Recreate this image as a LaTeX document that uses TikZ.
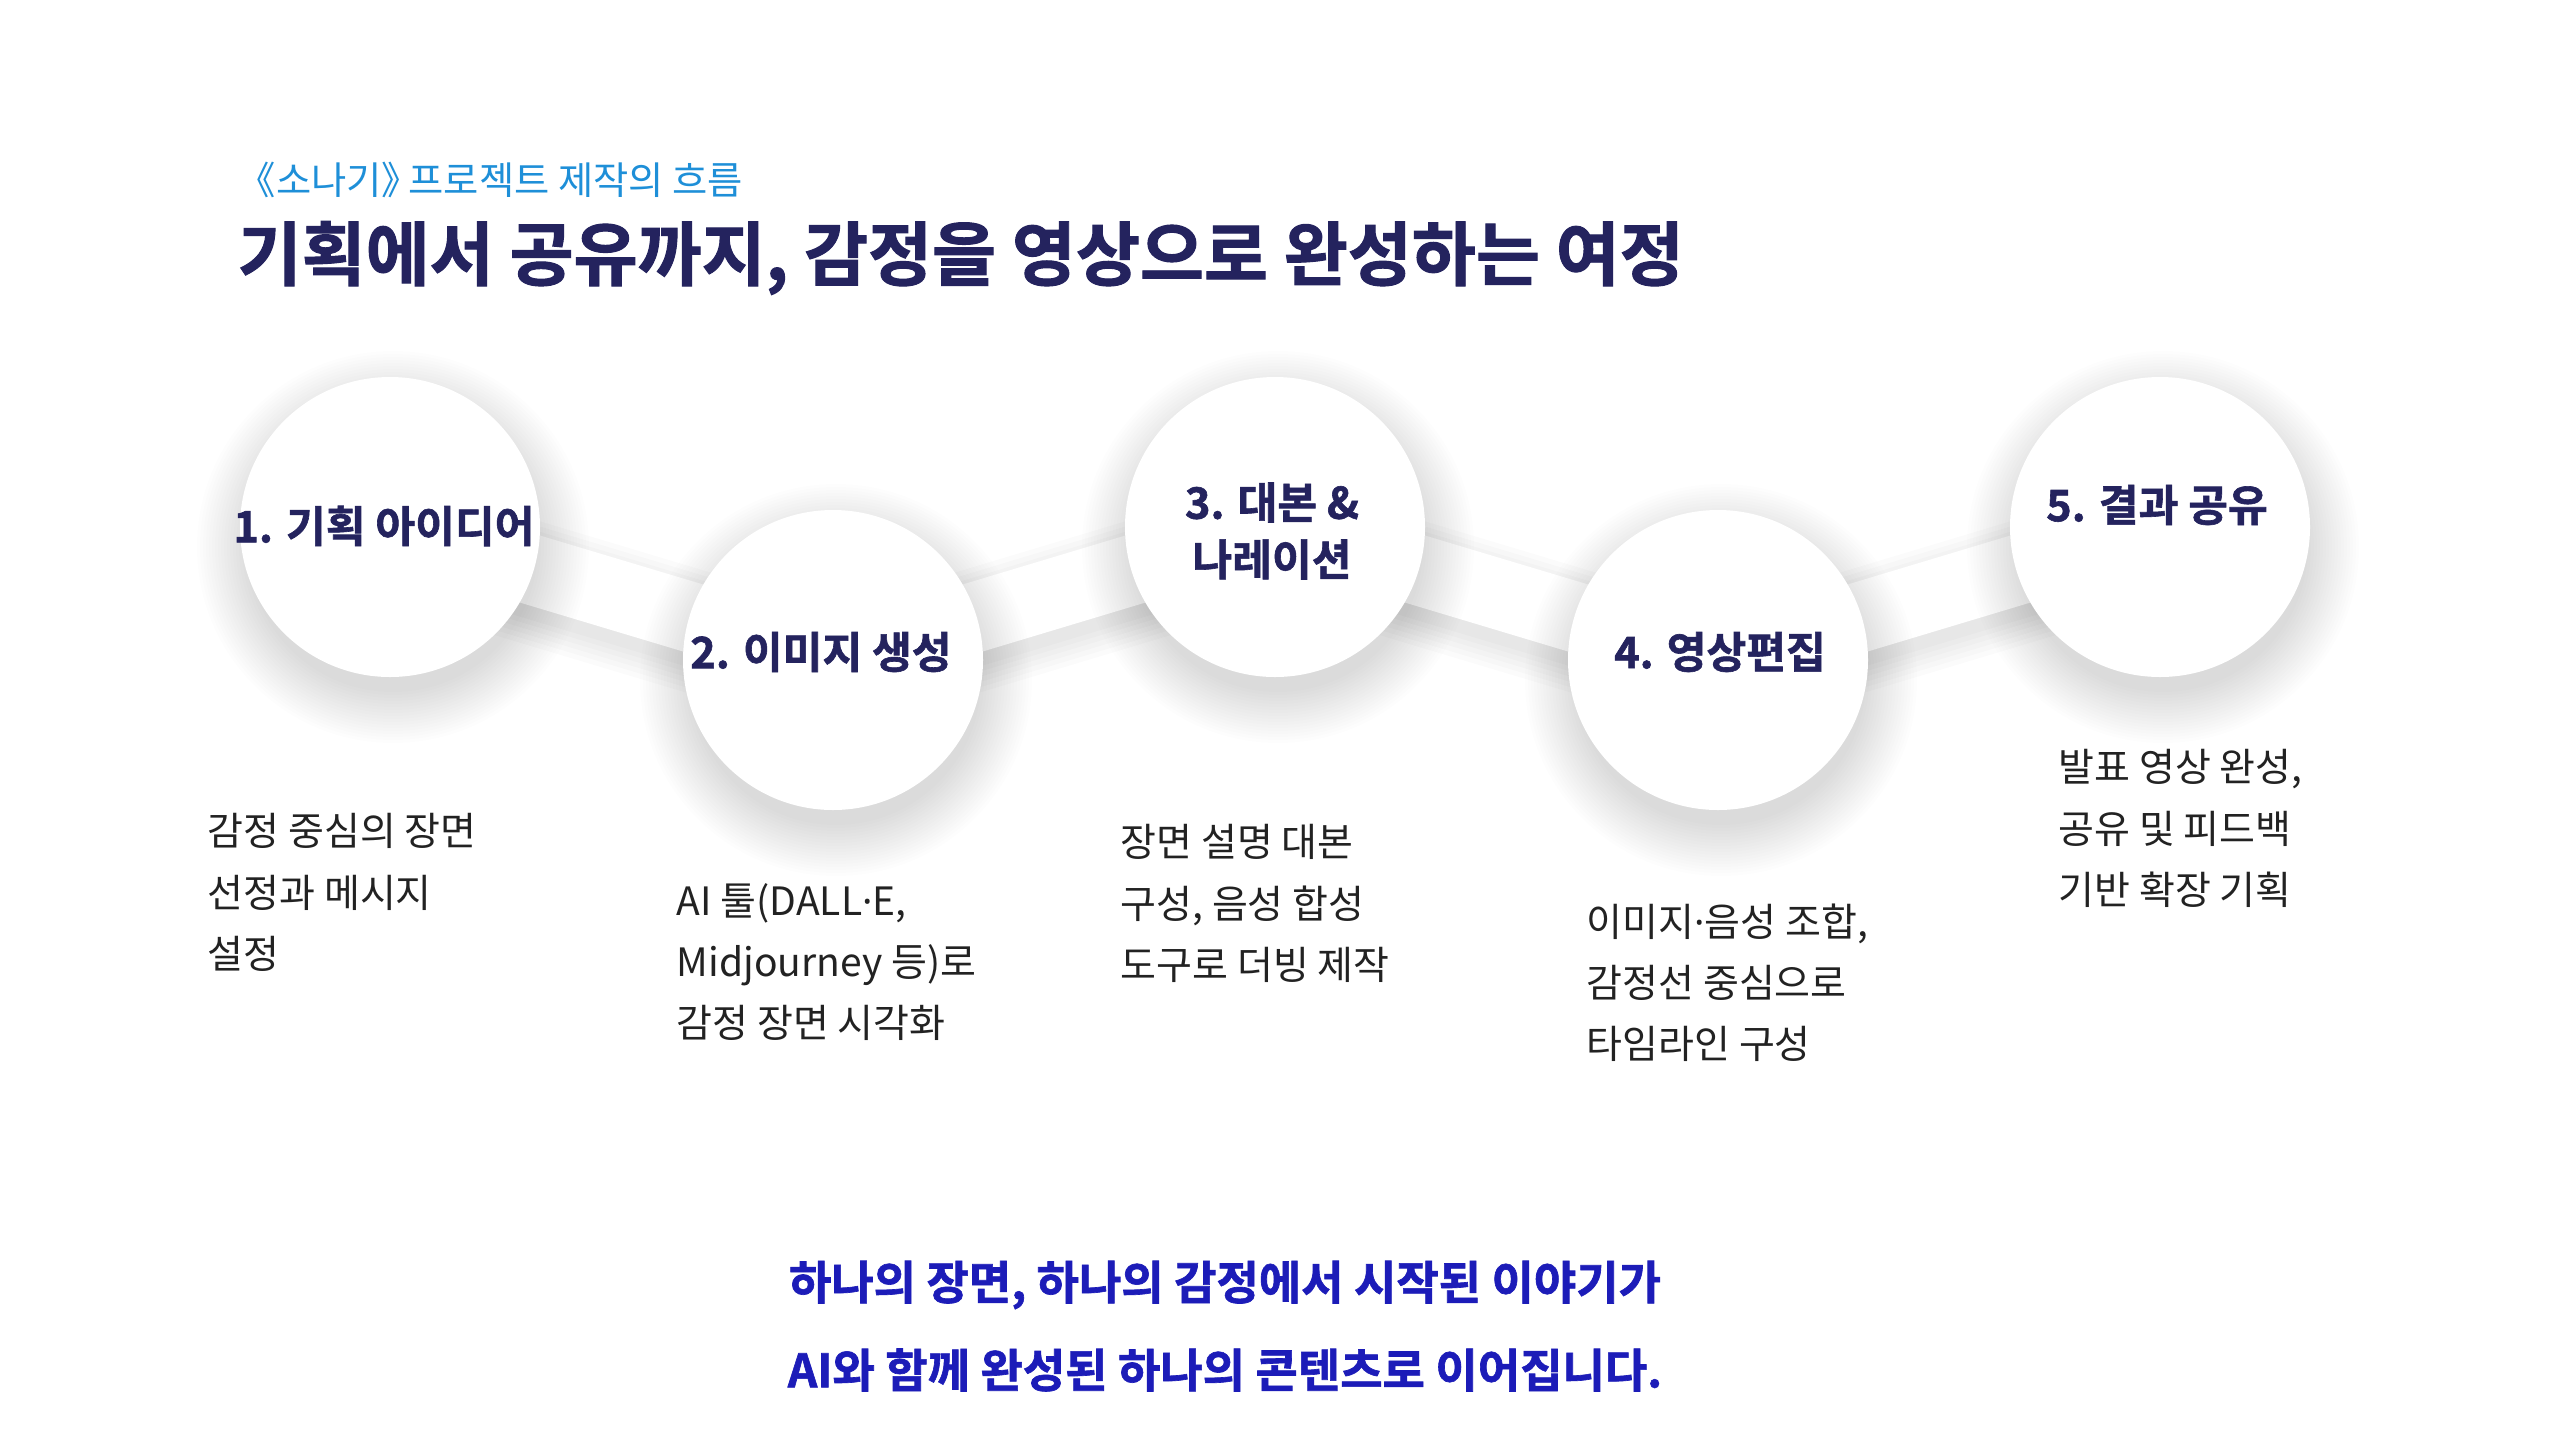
\documentclass[tikz,border=0pt]{standalone}
\usepackage{fontspec}
\setmainfont{Noto Sans CJK KR}[BoldFont={Noto Sans CJK KR Bold}, BoldFeatures={FakeBold=1.4}]
\newfontfamily\latinsans{Noto Sans}
\usepackage{tikz}
\usetikzlibrary{backgrounds}

\definecolor{navy}{HTML}{24235E}
\definecolor{skyblue}{HTML}{1E8FD8}
\definecolor{royal}{HTML}{1C1CB8}
\definecolor{bodytext}{HTML}{222222}

\begin{document}
\begin{tikzpicture}[
  bubble/.style={circle, fill=white, minimum size=3cm, inner sep=0pt},
  haloshade/.style={black, opacity=0.006},
  bandline/.style={white, line width=0.7cm},
  bandshade/.style={black, opacity=0.015},
  steplabel/.style={navy, font=\bfseries\fontsize{12.3}{16}\selectfont, align=center, inner sep=0pt},
  desc/.style={bodytext, font=\fontsize{11.1}{17.4}\selectfont, align=left, anchor=north west, inner sep=0pt},
  closing/.style={royal, font=\bfseries\fontsize{13.1}{24}\selectfont, inner sep=0pt}
]
\useasboundingbox (0cm,0cm) rectangle (25.6cm,-14.4cm);

% heading
\node[anchor=west, skyblue, font=\fontsize{10.9}{12}\selectfont, inner sep=0pt] (kicker) at (2.37cm,-1.80cm) {《소나기》\kern-0.3em 프로젝트 제작의 흐름};
\node[anchor=west, navy, font=\bfseries\fontsize{19.8}{22}\selectfont, inner sep=0pt] (title) at (2.37cm,-2.58cm) {기획에서 공유까지, 감정을 영상으로 완성하는 여정};

% bubbles
\node[bubble] (c1) at (3.9cm,-5.27cm) {};
\node[bubble] (c2) at (8.33cm,-6.6cm) {};
\node[bubble] (c3) at (12.75cm,-5.27cm) {};
\node[bubble] (c4) at (17.18cm,-6.6cm) {};
\node[bubble] (c5) at (21.6cm,-5.27cm) {};

\begin{scope}[on background layer]
\fill[white] (0cm,0cm) rectangle (25.6cm,-14.4cm);
% bands between the bubbles
\foreach \a/\b in {c1/c2,c2/c3,c3/c4,c4/c5} {
  \foreach \w in {0.72,0.82,...,1.32}
    \draw[bandshade, line width=\w cm] ([yshift=-0.13cm]\a.center) -- ([yshift=-0.13cm]\b.center);
  \draw[bandline] (\a.center) -- (\b.center);
}
% soft shadow rings
\foreach \c in {c1,c2,c3,c4,c5}
  \foreach \r in {1.45,1.48,...,1.96}
    \fill[haloshade] ([xshift=0.03cm,yshift=-0.2cm]\c.center) circle (\r cm);
\end{scope}

\node[steplabel] (l1) at (3.84cm,-5.26cm) {1. 기획 아이디어};
\node[steplabel] (l2) at (8.21cm,-6.52cm) {2. 이미지 생성};
\node[steplabel, font=\bfseries\fontsize{12.3}{16.2}\selectfont] (l3) at (12.72cm,-5.31cm) {3. 대본 \&\\나레이션};
\node[steplabel] (l4) at (17.2cm,-6.52cm) {4. 영상편집};
\node[steplabel] (l5) at (21.57cm,-5.05cm) {5. 결과 공유};

% descriptions
\node[desc] (d1) at (2.07cm,-8.13cm) {감정 중심의 장면\\선정과 메시지\\설정};
\node[desc] (d2) at (6.76cm,-8.83cm) {AI 툴(DALL{\latinsans ·}E,\\Midjourney 등)로\\감정 장면 시각화};
\node[desc] (d3) at (11.2cm,-8.24cm) {장면 설명 대본\\구성, 음성 합성\\도구로 더빙 제작};
\node[desc] (d4) at (15.86cm,-9.03cm) {이미지{\latinsans ·}음성 조합,\\감정선 중심으로\\타임라인 구성};
\node[desc] (d5) at (20.58cm,-7.49cm) {발표 영상 완성,\\공유 및 피드백\\기반 확장 기획};

% closing lines
\node[closing] (m1) at (12.25cm,-12.85cm) {하나의 장면, 하나의 감정에서 시작된 이야기가};
\node[closing] (m2) at (12.25cm,-13.70cm) {AI와 함께 완성된 하나의 콘텐츠로 이어집니다.};
\end{tikzpicture}
\end{document}
